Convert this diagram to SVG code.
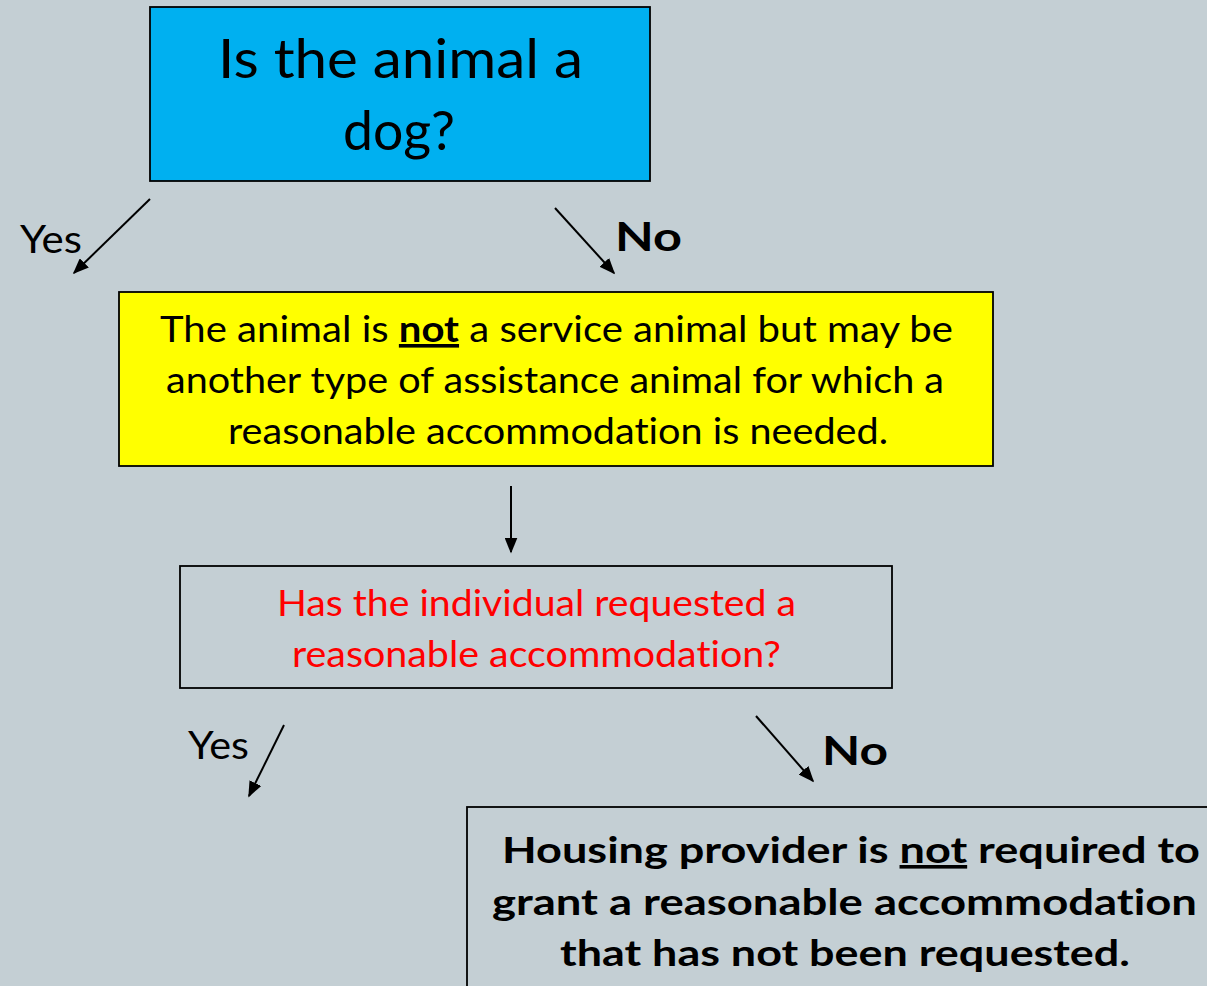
<svg xmlns="http://www.w3.org/2000/svg" width="1207" height="986" viewBox="0 0 1207 986">
<defs>
<marker id="ah" viewBox="0 0 10 10" refX="9" refY="5" markerWidth="16" markerHeight="13" markerUnits="userSpaceOnUse" orient="auto" preserveAspectRatio="none">
<path d="M0,0 L10,5 L0,10 Z" fill="#000"/>
</marker>
<style>
text{font-family:Lato,"Open Sans","Liberation Sans",sans-serif;fill:#000;text-anchor:start;font-variant-ligatures:none}
.box{stroke:#000;stroke-width:1.8}
.lbl{font-size:38px}
.no{font-size:40px;font-weight:bold}
.ln{stroke:#000;stroke-width:2;fill:none;marker-end:url(#ah)}
</style>
</defs>
<rect width="1207" height="986" fill="#C4CFD4"/>
<g id="n1">
<rect class="box" x="150" y="7" width="500" height="174" fill="#00B0F0"/>
<text x="218" y="78" font-size="54" textLength="365" lengthAdjust="spacingAndGlyphs">Is the animal a</text>
<text x="343" y="150" font-size="54" textLength="112" lengthAdjust="spacingAndGlyphs">dog?</text>
</g>
<g id="n2">
<rect class="box" x="119" y="292" width="874" height="174" fill="#FFFF00"/>
<text x="160" y="342" font-size="36" textLength="793" lengthAdjust="spacingAndGlyphs">The animal is <tspan font-weight="bold" text-decoration="underline">not</tspan> a service animal but may be</text>
<text x="166" y="393" font-size="36" textLength="778" lengthAdjust="spacingAndGlyphs">another type of assistance animal for which a</text>
<text x="228" y="444" font-size="36" textLength="660" lengthAdjust="spacingAndGlyphs">reasonable accommodation is needed.</text>
</g>
<g id="n3">
<rect class="box" x="180" y="566" width="712" height="122" fill="none"/>
<text x="277" y="616" font-size="36" style="fill:#FF0000" textLength="519" lengthAdjust="spacingAndGlyphs">Has the individual requested a</text>
<text x="292" y="667" font-size="36" style="fill:#FF0000" textLength="489" lengthAdjust="spacingAndGlyphs">reasonable accommodation?</text>
</g>
<g id="n4">
<rect class="box" x="467" y="807" width="745" height="185" fill="none"/>
<text x="502" y="863" font-size="36" font-weight="bold" textLength="698" lengthAdjust="spacingAndGlyphs">Housing provider is <tspan text-decoration="underline">not</tspan> required to</text>
<text x="492" y="915" font-size="36" font-weight="bold" textLength="705" lengthAdjust="spacingAndGlyphs">grant a reasonable accommodation</text>
<text x="560" y="966" font-size="36" font-weight="bold" textLength="570" lengthAdjust="spacingAndGlyphs">that has not been requested.</text>
</g>
<g id="connectors">
<line class="ln" x1="150" y1="199" x2="74" y2="273"/>
<line class="ln" x1="555" y1="208" x2="614" y2="273"/>
<line class="ln" x1="511" y1="486" x2="511" y2="552"/>
<line class="ln" x1="284" y1="725" x2="249" y2="796"/>
<line class="ln" x1="756" y1="716" x2="813" y2="781"/>
<text class="lbl" x="20" y="253" textLength="62" lengthAdjust="spacingAndGlyphs">Yes</text>
<text class="no" x="615" y="251" textLength="67" lengthAdjust="spacingAndGlyphs">No</text>
<text class="lbl" x="188" y="759" textLength="61" lengthAdjust="spacingAndGlyphs">Yes</text>
<text class="no" x="822" y="765" textLength="66" lengthAdjust="spacingAndGlyphs">No</text>
</g>
</svg>
